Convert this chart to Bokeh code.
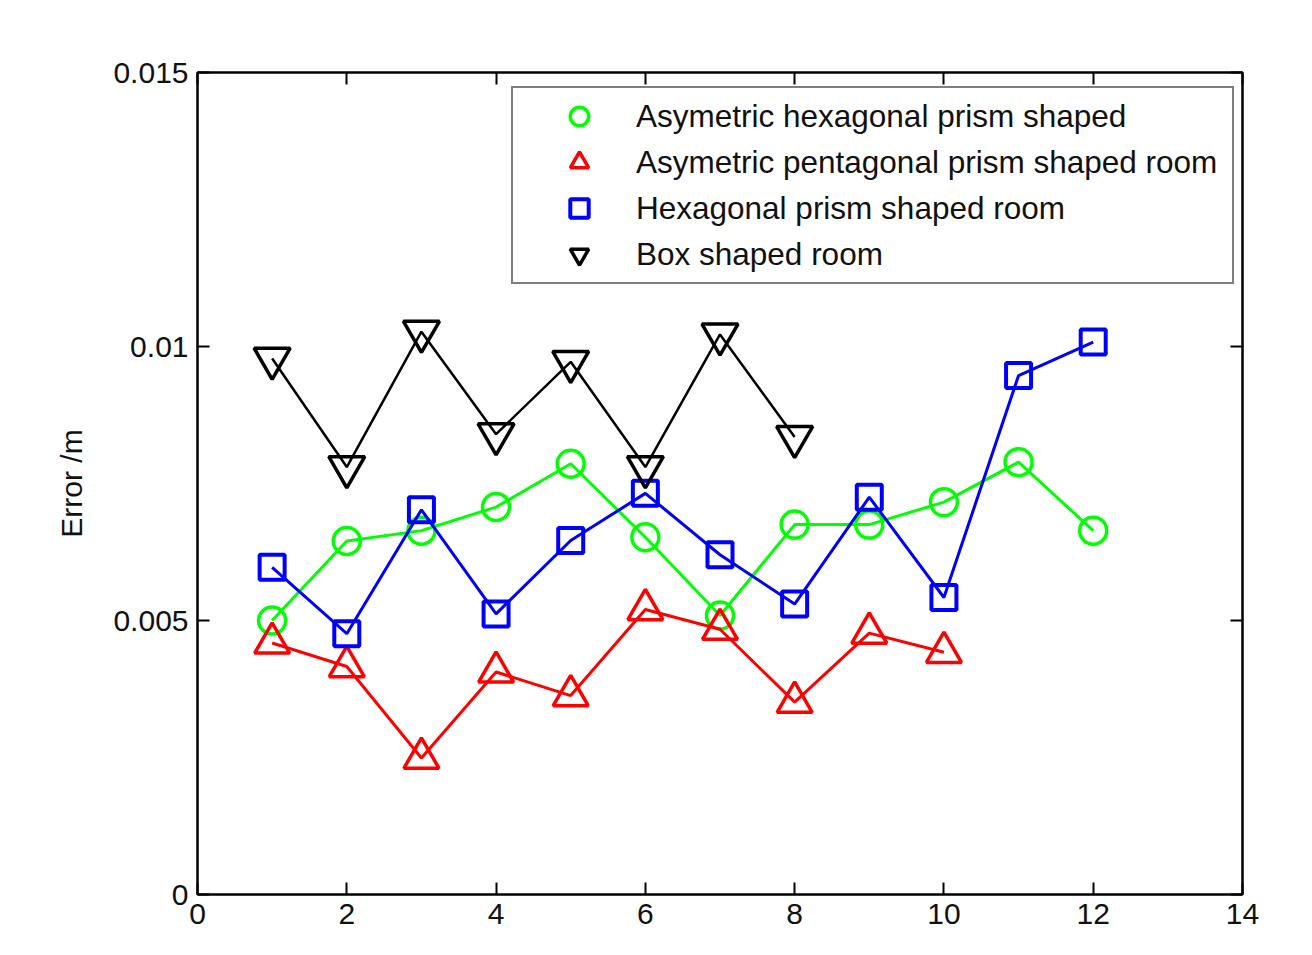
from bokeh.plotting import figure
from bokeh.models import (LinearAxis, FixedTicker, Legend, LegendItem, Label, Range1d)
from bokeh.embed import file_html
from bokeh.resources import INLINE

# ---------------- data ----------------
vertices_hex = [1, 2, 3, 4, 5, 6, 7, 8, 9, 10, 11, 12]
asym_hexagonal = [0.00500, 0.00645, 0.00664, 0.00707, 0.00786, 0.00652,
                  0.00509, 0.00675, 0.00675, 0.00716, 0.00789, 0.00664]

vertices_pent = [1, 2, 3, 4, 5, 6, 7, 8, 9, 10]
asym_pentagonal = [0.00459, 0.00416, 0.00249, 0.00406, 0.00363, 0.00520,
                   0.00484, 0.00351, 0.00477, 0.00442]

vertices_hexroom = [1, 2, 3, 4, 5, 6, 7, 8, 9, 10, 11, 12]
hexagonal_room = [0.00597, 0.00476, 0.00702, 0.00512, 0.00646, 0.00732,
                  0.00620, 0.00530, 0.00725, 0.00542, 0.00947, 0.01008]

vertices_box = [1, 2, 3, 4, 5, 6, 7, 8]
box_room = [0.00978, 0.00780, 0.01027, 0.00840, 0.00972, 0.00780, 0.01022, 0.00835]

series_labels = ["Asymetric hexagonal prism shaped",
                 "Asymetric pentagonal prism shaped room",
                 "Hexagonal prism shaped room",
                 "Box shaped room"]

x_ticks = [0, 2, 4, 6, 8, 10, 12, 14]
y_ticks = [0, 0.005, 0.01, 0.015]
y_tick_labels = ["0", "0.005", "0.01", "0.015"]
x_title = "Vertices Number"
y_title = "Error /m"

# ---------------- figure ----------------
FONT = "Liberation Sans"

p = figure(width=1312, height=955,
           x_range=Range1d(0, 14), y_range=Range1d(0, 0.015),
           output_backend="svg", toolbar_location=None,
           min_border_left=197, min_border_right=70,
           min_border_top=72, min_border_bottom=61)
p.xgrid.visible = False
p.ygrid.visible = False
p.outline_line_color = "black"
p.outline_line_width = 2
p.background_fill_color = "white"
p.border_fill_color = "white"

def style_axis(ax, ticks, show_labels):
    ax.ticker = FixedTicker(ticks=ticks)
    ax.axis_line_color = "black"
    ax.axis_line_width = 2
    ax.major_tick_line_color = "black"
    ax.major_tick_line_width = 2
    ax.major_tick_in = 12
    ax.major_tick_out = 0
    ax.minor_tick_line_color = None
    if show_labels:
        ax.major_label_text_font = FONT
        ax.major_label_text_font_size = "30px"
        ax.major_label_text_color = "#111111"
        ax.major_label_standoff = 9
    else:
        ax.major_label_overrides = {t: "" for t in ticks}
        ax.major_label_standoff = 0

xax = p.below[0]
yax = p.left[0]
style_axis(xax, x_ticks, True)
style_axis(yax, y_ticks, True)
yax.major_label_overrides = {t: s for t, s in zip(y_ticks, y_tick_labels)}
yax.axis_label = y_title
yax.axis_label_text_font = FONT
yax.axis_label_text_font_size = "30px"
yax.axis_label_text_font_style = "normal"
yax.axis_label_text_color = "#111111"
yax.axis_label_standoff = 22

top_ax = LinearAxis()
style_axis(top_ax, x_ticks, False)
p.add_layout(top_ax, "above")
right_ax = LinearAxis()
style_axis(right_ax, y_ticks, False)
p.add_layout(right_ax, "right")

# ---------------- series ----------------
LW = 3
MLW = 3.5

p.line(vertices_hex, asym_hexagonal, line_color="#00ff00", line_width=LW)
r1 = p.scatter(vertices_hex, asym_hexagonal, marker="circle", size=27,
               line_color="#00ff00", fill_color=None, line_width=MLW)

p.line(vertices_pent, asym_pentagonal, line_color="#ff0000", line_width=LW)
r2 = p.scatter(vertices_pent, asym_pentagonal, marker="triangle", size=35,
               line_color="#ff0000", fill_color=None, line_width=MLW)

p.line(vertices_hexroom, hexagonal_room, line_color="#0000ff", line_width=LW)
r3 = p.scatter(vertices_hexroom, hexagonal_room, marker="square", size=25,
               line_color="#0000ff", fill_color=None, line_width=MLW + 0.5)

p.line(vertices_box, box_room, line_color="black", line_width=LW - 0.5)
r4 = p.scatter(vertices_box, box_room, marker="inverted_triangle", size=36,
               line_color="black", fill_color=None, line_width=MLW)

legend = Legend(items=[LegendItem(label=series_labels[0], renderers=[r1]),
                       LegendItem(label=series_labels[1], renderers=[r2]),
                       LegendItem(label=series_labels[2], renderers=[r3]),
                       LegendItem(label=series_labels[3], renderers=[r4])],
                location=(314, 610))
legend.border_line_color = "black"
legend.border_line_width = 2
legend.background_fill_color = "white"
legend.background_fill_alpha = 1
legend.padding = {"left": 20, "right": 15, "top": 5, "bottom": 5}
legend.spacing = 0
legend.margin = 0
legend.glyph_width = 92
legend.glyph_height = 46
legend.label_height = 46
legend.label_width = 581
legend.label_standoff = 11
legend.label_text_font = FONT
legend.label_text_font_size = "31.5px"
legend.label_text_color = "#111111"
legend.label_text_baseline = "middle"
p.add_layout(legend)

xlabel = Label(x=7, y=-0.000876, x_units="data", y_units="data",
               text=x_title, text_align="center", text_baseline="top",
               text_font=FONT, text_font_size="31px", text_color="#111111")
p.add_layout(xlabel)

open("out.html", "w").write(file_html(p, INLINE))
